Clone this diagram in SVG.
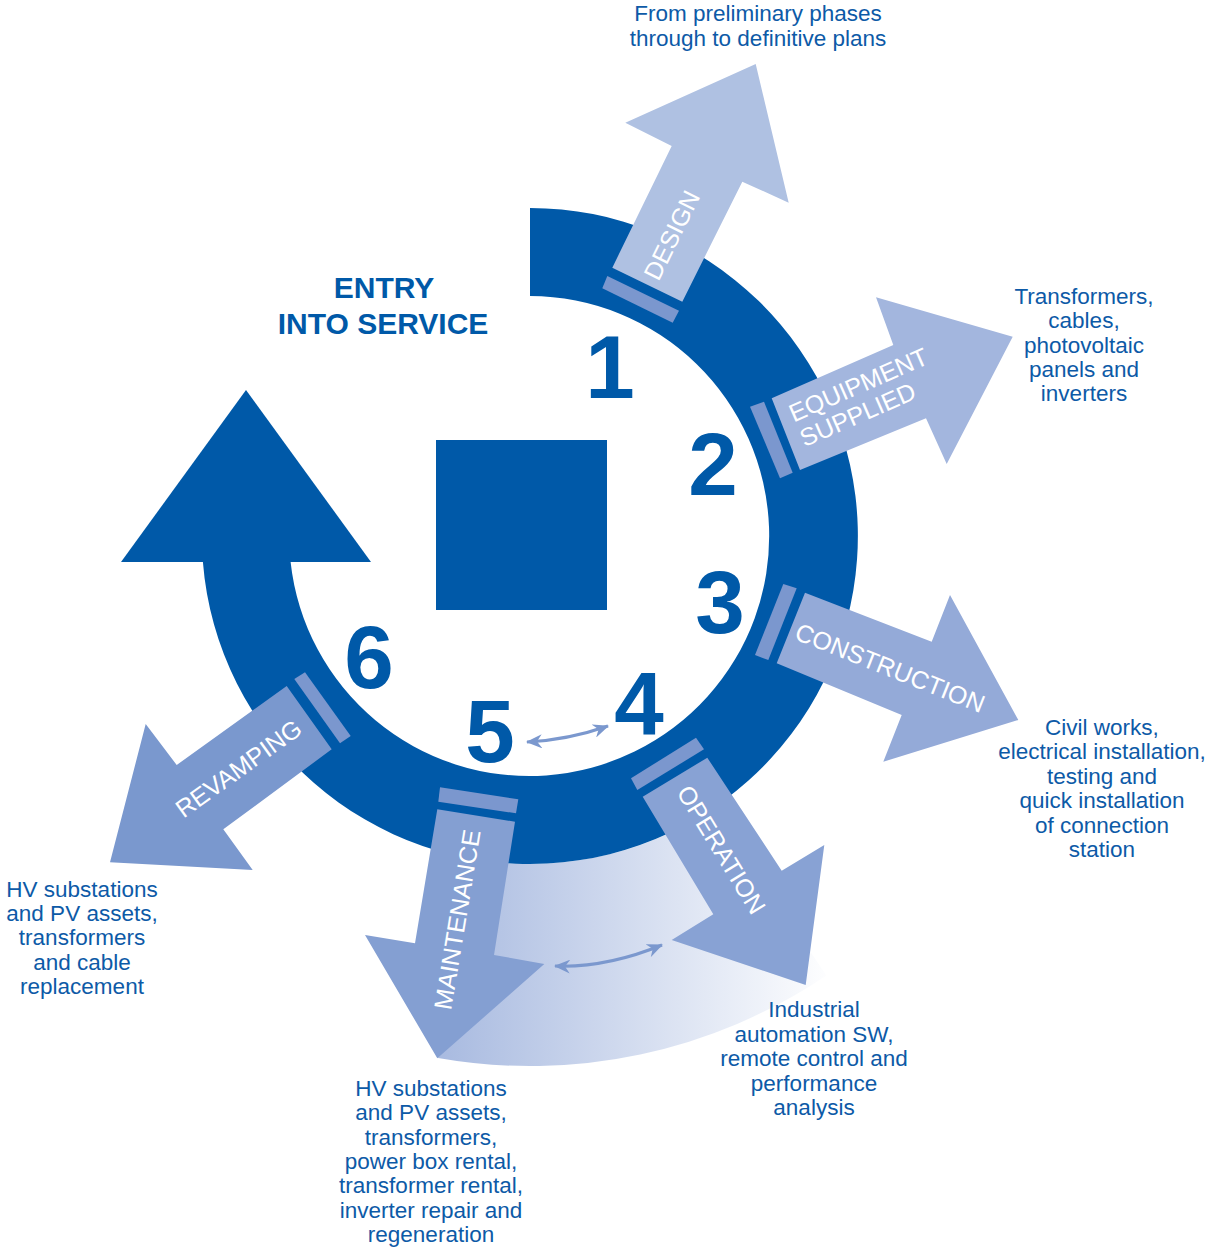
<svg xmlns="http://www.w3.org/2000/svg" width="1211" height="1248" viewBox="0 0 1211 1248">
<defs>
<style>
.ring{fill:#0059a8}
.band{fill:#7b97ce}
.lbl{font-family:"Liberation Sans",Arial,Helvetica,sans-serif;fill:#ffffff;font-size:25px}
.num{font-family:"Liberation Sans",Arial,Helvetica,sans-serif;font-weight:bold;fill:#0059a8;font-size:89px;text-anchor:middle}
.desc{font-family:"Liberation Sans",Arial,Helvetica,sans-serif;fill:#0d5aa7;font-size:22.5px;text-anchor:middle}
.title{font-family:"Liberation Sans",Arial,Helvetica,sans-serif;font-weight:bold;fill:#0059a8;font-size:30px;text-anchor:middle}
.dbl{fill:none;stroke:#7b98ce;stroke-width:3}
</style>
<linearGradient id="fade" gradientUnits="userSpaceOnUse" x1="437" y1="0" x2="835" y2="0">
<stop offset="0" stop-color="#a8bae0"/>
<stop offset="1" stop-color="#ffffff"/>
</linearGradient>
<marker id="ah" markerUnits="userSpaceOnUse" markerWidth="16" markerHeight="14" refX="15" refY="7" orient="auto-start-reverse" viewBox="0 0 16 14">
<path d="M0,0 L16,7 L0,14 L5,7 Z" fill="#7b98ce"/>
</marker>
</defs>
<rect width="1211" height="1248" fill="#ffffff"/>

<g id="shadow">
<path d="M473,859 A328,328 0 0 0 713.4,807.9 L826.4,975.4 A530,530 0 0 1 438,1058 Z" fill="url(#fade)"/>
</g>

<g id="ring">
<path class="ring" d="M530,208 A328,328 0 1 1 202.9,562 L290.6,562 A240,240 0 1 0 530,296 Z"/>
<polygon class="ring" points="121,562 371,562 246,390"/>
</g>

<g id="center-square">
<rect x="436" y="440" width="171" height="170" class="ring"/>
</g>

<g id="entry">
<text class="title" x="384" y="298">ENTRY</text>
<text class="title" x="383" y="334">INTO SERVICE</text>
</g>

<g id="numbers">
<text class="num" x="610" y="398">1</text>
<text class="num" x="713" y="495">2</text>
<text class="num" x="720" y="633">3</text>
<text class="num" x="639" y="735">4</text>
<text class="num" x="490" y="762">5</text>
<text class="num" x="369" y="688">6</text>
</g>

<g id="design">
<polygon fill="#afc1e2" points="612.3,267.7 671.7,146 625.3,122.7 755.7,64 788.7,202.7 742.3,181.7 682.3,301.7"/>
<polygon class="band" points="607.3,276 679,310.7 672.7,322.7 602.3,288.3"/>
<text class="lbl" transform="translate(671.5,235) rotate(-63.8)" x="0" y="9" text-anchor="middle">DESIGN</text>
</g>

<g id="equipment">
<polygon fill="#a3b6de" points="771.7,398.3 893.3,345 876,297.3 1012.7,336.7 946.7,464 926,418.3 800,470"/>
<polygon class="band" points="750,406.7 764,401.7 792.7,472.7 780,478.3"/>
<g transform="translate(785.8,434.2) rotate(-23.6)">
<text class="lbl" x="12" y="-7.5">EQUIPMENT</text>
<text class="lbl" x="12" y="19.5">SUPPLIED</text>
</g>
</g>

<g id="construction">
<polygon fill="#94aad8" points="805,592.7 931.7,641.7 950,595 1018.3,720 883.3,761.7 901.7,715 776.7,663.3"/>
<polygon class="band" points="783.3,584 796.7,588.3 768.3,660 755,655"/>
<text class="lbl" transform="translate(790.8,628) rotate(21.7)" x="107" y="9" text-anchor="middle">CONSTRUCTION</text>
</g>

<g id="operation">
<polygon fill="#88a2d4" points="642.7,796.7 707.3,757.7 781.7,870.7 824.3,845 805.7,985 671.7,940 713.3,914.3"/>
<polygon class="band" points="631,778.3 696,737.7 704,749.3 637.3,790"/>
<text class="lbl" transform="translate(675,777.2) rotate(58.5)" x="86" y="7" text-anchor="middle">OPERATION</text>
</g>

<g id="maintenance">
<polygon fill="#849fd2" points="437.3,809.3 515,821.7 494,955 544.3,964 437.3,1058.3 365,935 415,943.3"/>
<polygon class="band" points="440,787.3 518.3,799.3 516,813.3 438.3,801.7"/>
<text class="lbl" transform="translate(457,919.5) rotate(-80.6)" x="0" y="9" text-anchor="middle">MAINTENANCE</text>
</g>

<g id="revamping">
<polygon fill="#7a98ce" points="286.7,686 176.7,765 145.7,724 110,862.3 252.7,870 223.3,829.3 331.7,749.3"/>
<polygon class="band" points="294.3,679 305,672.3 350.7,736 340,743.3"/>
<text class="lbl" transform="translate(238.3,768.3) rotate(-35.7)" x="0" y="9" text-anchor="middle">REVAMPING</text>
</g>

<g id="connectors">
<path class="dbl" d="M527,742 Q568,740 608,726" marker-start="url(#ah)" marker-end="url(#ah)"/>
<path class="dbl" d="M555,966 Q606,968 662,945" marker-start="url(#ah)" marker-end="url(#ah)"/>
</g>

<g id="desc-design">
<text class="desc" x="758" y="21">From preliminary phases</text>
<text class="desc" x="758" y="45.5">through to definitive plans</text>
</g>
<g id="desc-equipment">
<text class="desc" x="1084" y="304">Transformers,</text>
<text class="desc" x="1084" y="328.2">cables,</text>
<text class="desc" x="1084" y="352.5">photovoltaic</text>
<text class="desc" x="1084" y="376.7">panels and</text>
<text class="desc" x="1084" y="401">inverters</text>
</g>
<g id="desc-construction">
<text class="desc" x="1102" y="735">Civil works,</text>
<text class="desc" x="1102" y="759.4">electrical installation,</text>
<text class="desc" x="1102" y="783.8">testing and</text>
<text class="desc" x="1102" y="808.2">quick installation</text>
<text class="desc" x="1102" y="832.6">of connection</text>
<text class="desc" x="1102" y="857">station</text>
</g>
<g id="desc-operation">
<text class="desc" x="814" y="1017">Industrial</text>
<text class="desc" x="814" y="1041.5">automation SW,</text>
<text class="desc" x="814" y="1066">remote control and</text>
<text class="desc" x="814" y="1090.5">performance</text>
<text class="desc" x="814" y="1115">analysis</text>
</g>
<g id="desc-maintenance">
<text class="desc" x="431" y="1096">HV substations</text>
<text class="desc" x="431" y="1120.3">and PV assets,</text>
<text class="desc" x="431" y="1144.6">transformers,</text>
<text class="desc" x="431" y="1169">power box rental,</text>
<text class="desc" x="431" y="1193.3">transformer rental,</text>
<text class="desc" x="431" y="1217.6">inverter repair and</text>
<text class="desc" x="431" y="1242">regeneration</text>
</g>
<g id="desc-revamping">
<text class="desc" x="82" y="897">HV substations</text>
<text class="desc" x="82" y="921.2">and PV assets,</text>
<text class="desc" x="82" y="945.4">transformers</text>
<text class="desc" x="82" y="969.6">and cable</text>
<text class="desc" x="82" y="994">replacement</text>
</g>
</svg>
